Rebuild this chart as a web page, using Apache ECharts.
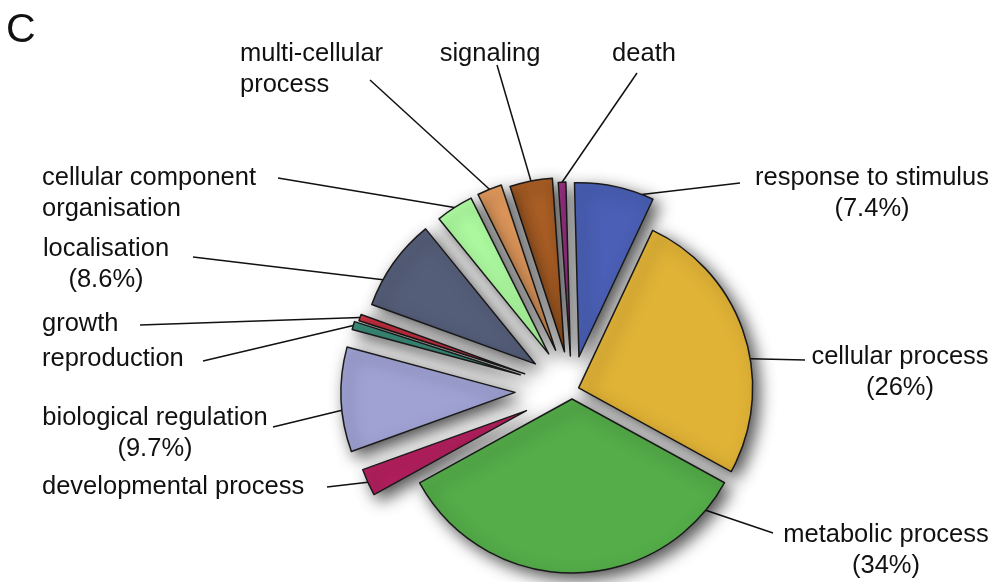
<!DOCTYPE html>
<html>
<head>
<meta charset="utf-8">
<script src="https://cdn.jsdelivr.net/npm/echarts@6/dist/echarts.min.js"></script>
<style>
html,body{margin:0;padding:0;background:#ffffff;}
#chart{width:993px;height:582px;}
</style>
</head>
<body>
<div id="chart"></div>
<script>
// ---- data (clockwise from the top) ----
const categories = ['death', 'response to stimulus', 'cellular process', 'metabolic process',
  'developmental process', 'biological regulation', 'reproduction', 'growth', 'localisation',
  'cellular component\norganisation', 'multi-cellular\nprocess', 'signaling'];
const values = [0.7, 7.4, 26, 34, 2.5, 9.7, 0.75, 0.6, 8.6, 3.5, 2.3, 3.95];

// ---- style ----
const colors = ['#96307f', '#4a5fb5', '#e0b236', '#54ad49', '#b31f5e', '#9fa2d3',
  '#3a8b79', '#dc3446', '#555e79', '#aefca1', '#e49b5e', '#a95e25'];
const explode = [34, 34, 7, 9, 50, 57, 54, 50, 45, 43, 43, 39];      // px pulled out
const anchorFrac = [0.5, 0.85, 0.59, 0.09, 0.5, 0.4, 0.5, 0.5, 0.29, 0.5, 0.5, 0.5];
const labelX = [644, 872, 900, 886, 42, 155, 42, 42, 106, 42, 240, 490];
const labelTop = [38, 162, 341, 519, 471, 402, 343, 308, 233, 162, 38, 38];
const labelAlign = ['center', 'center', 'center', 'center', 'left', 'center', 'left', 'left',
  'center', 'left', 'left', 'center'];
const leaderEnd = [[-7, 35], [-132, 21], [-95, 19], [-113, 14], [285, 16], [118, 25],
  [161, 18], [98, 17], [87, 24], [236, 16], [130, 42], [7, 27]];
const drawOrder = [11, 10, 9, 8, 0, 1, 7, 6, 5, 4, 2, 3];
const BASE = [572, 390], R = 174, START = 94;
const FONT = 'Liberation Sans';

const total = values.reduce((a, b) => a + b, 0);
const rad = d => d * Math.PI / 180;
let cum = 0;
const geom = values.map((v, i) => {
  const a0 = -START + 360 * cum / total;
  cum += v;
  const a1 = -START + 360 * cum / total;
  const mid = (a0 + a1) / 2;
  const cx = BASE[0] + explode[i] * Math.cos(rad(mid));
  const cy = BASE[1] + explode[i] * Math.sin(rad(mid));
  const aa = a0 + anchorFrac[i] * (a1 - a0);
  return { cx, cy, anchor: [cx + R * Math.cos(rad(aa)), cy + R * Math.sin(rad(aa))] };
});

const series = drawOrder.map(i => ({
  type: 'pie',
  center: [geom[i].cx, geom[i].cy],
  radius: R,
  startAngle: START,
  clockwise: true,
  avoidLabelOverlap: false,
  silent: true,
  animation: false,
  minAngle: 0,
  emphasis: { disabled: true },
  label: {
    position: 'outside',
    alignTo: 'none',
    overflow: 'none',
    fontFamily: FONT,
    fontSize: 25.5,
    lineHeight: 31,
    color: '#111111',
    formatter: p => p.name + (p.value >= 5 ? '\n(' + p.value + '%)' : '')
  },
  labelLine: { length: 8, length2: 8, lineStyle: { color: '#111111', width: 1.5 } },
  labelLayout: p => {
    const j = p.dataIndex;
    const x = labelX[j], y = labelTop[j];
    const end = [x + leaderEnd[j][0], y + leaderEnd[j][1]];
    return {
      x: x, y: y, align: labelAlign[j], verticalAlign: 'top',
      labelLinePoints: [geom[j].anchor, end]
    };
  },
  data: values.map((v, j) => j === i ? {
    name: categories[j], value: v,
    itemStyle: {
      color: colors[j], borderColor: '#1a1a1a', borderWidth: 1.5,
      shadowBlur: 16, shadowColor: 'rgba(0,0,0,0.68)', shadowOffsetX: 6, shadowOffsetY: 6
    },
    label: { show: true },
    labelLine: { show: true }
  } : {
    name: categories[j], value: v,
    itemStyle: { color: 'rgba(0,0,0,0)', borderWidth: 0, shadowBlur: 0 },
    label: { show: false },
    labelLine: { show: false }
  })
}));

const chart = echarts.init(document.getElementById('chart'), null, { renderer: 'canvas', width: 993, height: 582 });
chart.setOption({
  backgroundColor: '#ffffff',
  animation: false,
  title: {
    text: 'C', left: 1, top: 5,
    textStyle: { fontFamily: FONT, fontSize: 41, fontWeight: 'normal', color: '#111111' }
  },
  series: series
});
</script>
</body>
</html>
